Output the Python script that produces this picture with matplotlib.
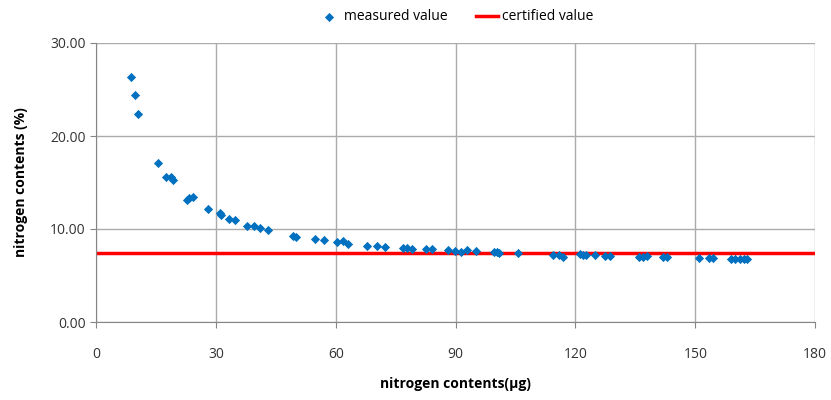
import matplotlib
matplotlib.use("Agg")
import matplotlib.pyplot as plt

# Data
x_measured = [8.8, 9.8, 10.6, 15.4, 17.5, 18.8, 19.3, 22.7, 23.4, 24.2, 28.1, 31.0, 31.2,
              33.3, 34.9, 37.7, 39.6, 41.1, 43.1, 49.4, 50.0, 54.7, 57.1, 60.4, 61.9, 63.0,
              67.9, 70.4, 72.4, 76.8, 77.8, 79.1, 82.6, 84.0, 88.0, 89.8, 91.3, 92.8, 95.1,
              99.5, 100.3, 100.9, 105.7, 114.5, 115.9, 116.8, 121.2, 122.0, 122.7, 124.9,
              127.4, 128.7, 135.9, 136.9, 137.9, 142.0, 143.0, 151.0, 153.3, 154.5,
              158.9, 160.0, 161.1, 162.1, 162.9]
y_measured = [26.3, 24.4, 22.4, 17.06, 15.6, 15.55, 15.3, 13.1, 13.3, 13.4, 12.2, 11.7, 11.5,
              11.1, 10.97, 10.3, 10.3, 10.07, 9.92, 9.28, 9.17, 8.92, 8.82, 8.57, 8.67, 8.35,
              8.2, 8.14, 8.06, 7.99, 7.99, 7.88, 7.82, 7.88, 7.71, 7.67, 7.56, 7.74, 7.60,
              7.49, 7.49, 7.45, 7.39, 7.2, 7.24, 7.02, 7.31, 7.2, 7.2, 7.24,
              7.13, 7.1, 6.96, 7.02, 7.13, 6.96, 6.96, 6.92, 6.92, 6.92,
              6.77, 6.8, 6.8, 6.8, 6.77]
certified_value = 7.42
x_range = [0, 180]
x_ticks = [0, 30, 60, 90, 120, 150, 180]
y_ticks = [0, 10, 20, 30]

plt.rcParams['font.family'] = ['Open Sans', 'DejaVu Sans']

fig = plt.figure(figsize=(8.31, 4.0), dpi=100)
ax = fig.add_axes([0.1155, 0.195, 0.8655, 0.6975])

ax.plot(x_range, [certified_value, certified_value], color='#FF0000', lw=2.5,
        label='certified value', zorder=2)
ax.scatter(x_measured, y_measured, marker='D', s=22, color='#0070C0',
           label='measured value', zorder=3, linewidths=0)

ax.set_xlim(0, 180)
ax.set_ylim(0, 30)
ax.set_xticks(x_ticks)
ax.set_yticks(y_ticks)
ax.set_yticklabels([f"{v:.2f}" for v in y_ticks])
ax.grid(True, color='#ABABAB', lw=1)
ax.set_axisbelow(True)
for s in ['top', 'right']:
    ax.spines[s].set_visible(False)
for s in ['left', 'bottom']:
    ax.spines[s].set_color('#868686')
ax.tick_params(axis='both', colors='#868686', labelcolor='#333333', labelsize=10, length=4)
ax.tick_params(axis='x', pad=14)

ax.set_xlabel('nitrogen contents(µg)', fontsize=10, fontweight='bold', labelpad=11)
ax.set_ylabel('nitrogen contents (%)', fontsize=10, fontweight='bold', labelpad=16)

handles, labels = ax.get_legend_handles_labels()
order = [1, 0]
ax.legend([handles[i] for i in order], [labels[i] for i in order],
          loc='upper center', bbox_to_anchor=(0.5, 1.165), ncol=2, frameon=False,
          fontsize=10, handlelength=1.6, columnspacing=2.0, handletextpad=0.3)

fig.savefig('out.png', dpi=100)
